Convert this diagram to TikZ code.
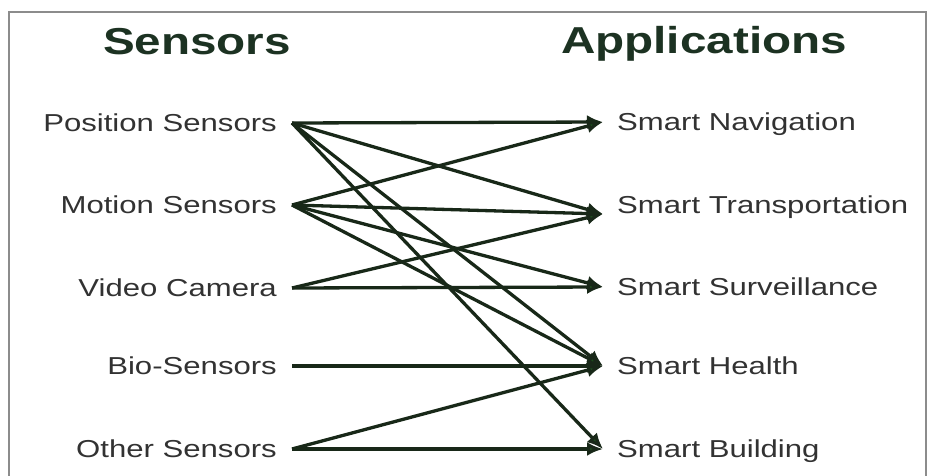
\documentclass[tikz,border=0pt]{standalone}
\usepackage{fontspec}
\setmainfont{Liberation Sans}[FakeStretch=1.27]
\usetikzlibrary{arrows.meta}

\definecolor{vertnoir}{RGB}{24,40,24}
\definecolor{vertpointe}{RGB}{28,78,28}
\definecolor{vertentete}{RGB}{28,50,34}
\definecolor{grisnom}{RGB}{50,50,50}
\definecolor{griscadre}{RGB}{140,140,140}

\tikzstyle{entete} = [anchor=base, inner sep=0pt, text=vertentete, font=\fontsize{37.5}{40}\selectfont\bfseries]
\tikzstyle{capteur} = [anchor=east, inner xsep=15pt, inner ysep=0pt, text height=17.5pt, text depth=0pt, text=grisnom, font=\fontsize{24.5}{26}\selectfont]
\tikzstyle{appli} = [capteur, anchor=west, inner xsep=14pt]
\tikzstyle{lien} = [draw=vertnoir, line width=3.3pt, -{Latex[length=16pt,width=14pt,fill=vertpointe]}]

\begin{document}
\begin{tikzpicture}[x=1pt, y=-1pt]

        \useasboundingbox (0,0) rectangle (928,476);
        \draw[griscadre, line width=2pt] (9,476) -- (9,12) -- (926,12) -- (926,476);

        \node (sensors) [entete] at (197,55) {Sensors};
        \node (applications) [entete] at (704,54) {Applications};

        \node (position) [capteur] at (292,123) {Position Sensors};
        \node (motion) [capteur] at (292,205) {Motion Sensors};
        \node (video) [capteur] at (292,288) {Video Camera};
        \node (bio) [capteur] at (292,366) {Bio-Sensors};
        \node (other) [capteur] at (292,449) {Other Sensors};

        \node (navigation) [appli] at (603,122) {Smart Navigation};
        \node (transport) [appli] at (603,205) {Smart Transportation};
        \node (surveillance) [appli] at (603,287) {Smart Surveillance};
        \node (health) [appli] at (603,366) {Smart Health};
        \node (building) [appli] at (603,449) {Smart Building};

        \draw[lien] (position.east) -- (navigation.west);
        \draw[lien] (position.east) -- ([yshift=-9pt]transport.west);
        \draw[lien] (position.east) -- (health.west);
        \draw[lien] (position.east) -- (building.west);

        \draw[lien] (motion.east) -- (navigation.west);
        \draw[lien] (motion.east) -- ([yshift=-9pt]transport.west);
        \draw[lien] (motion.east) -- (surveillance.west);
        \draw[lien] (motion.east) -- (health.west);

        \draw[lien] (video.east) -- ([yshift=-9pt]transport.west);
        \draw[lien] (video.east) -- (surveillance.west);

        \draw[lien] (bio.east) -- (health.west);

        \draw[lien] (other.east) -- (health.west);
        \draw[lien] (other.east) -- (building.west);

    \end{tikzpicture}
\end{document}
